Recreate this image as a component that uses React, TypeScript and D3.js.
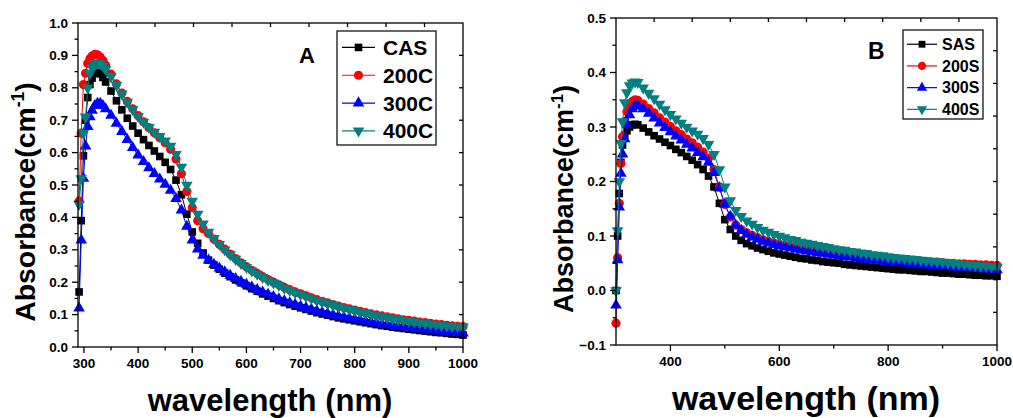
import React from 'react';
import * as d3 from 'd3';

// ---------- Panel A data ----------
const WL_A = [291, 295, 299, 303, 307, 311, 315, 320, 325, 330, 335, 340,
  350, 360, 370, 380, 390, 400, 410, 420, 430, 440, 450, 460,
  470, 480, 490, 500, 510, 520,
  530, 540, 550, 560, 570, 580, 590, 600,
  610, 620, 630, 640, 650, 660, 670, 680, 690, 700,
  710, 720, 730, 740, 750, 760, 770, 780, 790, 800,
  810, 820, 830, 840, 850, 860, 870, 880, 890, 900,
  910, 920, 930, 940, 950, 960, 970, 980, 990, 1000];

const CAS = [0.17, 0.39, 0.59, 0.70, 0.77, 0.81, 0.83, 0.845, 0.848, 0.843, 0.832, 0.818,
  0.790, 0.760, 0.732, 0.706, 0.682, 0.660, 0.640, 0.622, 0.605, 0.588, 0.570, 0.548,
  0.515, 0.470, 0.410, 0.355, 0.320, 0.290,
  0.268, 0.253, 0.240, 0.228, 0.217, 0.207, 0.198, 0.189,
  0.180, 0.172, 0.164, 0.157, 0.150, 0.143, 0.137, 0.131, 0.126, 0.121,
  0.116, 0.111, 0.106, 0.102, 0.098, 0.094, 0.090, 0.087, 0.084, 0.081,
  0.078, 0.075, 0.072, 0.069, 0.066, 0.064, 0.061, 0.059, 0.057, 0.055,
  0.053, 0.051, 0.049, 0.047, 0.045, 0.044, 0.042, 0.040, 0.039, 0.037];

const C200 = [0.45, 0.66, 0.81, 0.845, 0.875, 0.890, 0.898, 0.903, 0.902, 0.895, 0.884, 0.870,
  0.842, 0.812, 0.784, 0.758, 0.735, 0.714, 0.695, 0.677, 0.661, 0.646, 0.630, 0.610,
  0.580, 0.535, 0.480, 0.430, 0.390, 0.365,
  0.350, 0.333, 0.317, 0.302, 0.287, 0.273, 0.260, 0.248,
  0.237, 0.227, 0.217, 0.208, 0.200, 0.192, 0.184, 0.177, 0.170, 0.164,
  0.158, 0.152, 0.146, 0.141, 0.136, 0.131, 0.126, 0.122, 0.118, 0.114,
  0.110, 0.106, 0.102, 0.099, 0.096, 0.093, 0.090, 0.087, 0.084, 0.082,
  0.080, 0.077, 0.075, 0.073, 0.071, 0.069, 0.067, 0.065, 0.064, 0.063];

const C300 = [0.12, 0.33, 0.52, 0.62, 0.68, 0.71, 0.73, 0.745, 0.752, 0.752, 0.745, 0.735,
  0.715, 0.690, 0.665, 0.640, 0.615, 0.592, 0.572, 0.553, 0.535, 0.518, 0.502, 0.483,
  0.458, 0.422, 0.372, 0.330, 0.302, 0.283,
  0.268, 0.255, 0.243, 0.232, 0.221, 0.211, 0.202, 0.193,
  0.185, 0.177, 0.169, 0.162, 0.155, 0.148, 0.142, 0.136, 0.131, 0.126,
  0.121, 0.116, 0.111, 0.107, 0.103, 0.099, 0.095, 0.092, 0.089, 0.086,
  0.083, 0.080, 0.077, 0.074, 0.071, 0.069, 0.066, 0.064, 0.062, 0.060,
  0.058, 0.056, 0.054, 0.052, 0.050, 0.049, 0.047, 0.046, 0.044, 0.043];

const C400 = [0.44, 0.52, 0.66, 0.71, 0.80, 0.845, 0.862, 0.872, 0.876, 0.874, 0.867, 0.857,
  0.835, 0.808, 0.781, 0.756, 0.733, 0.712, 0.694, 0.678, 0.663, 0.650, 0.636, 0.620,
  0.595, 0.555, 0.500, 0.450, 0.410, 0.380,
  0.355, 0.335, 0.317, 0.300, 0.285, 0.271, 0.258, 0.246,
  0.235, 0.225, 0.215, 0.206, 0.198, 0.190, 0.182, 0.175, 0.168, 0.162,
  0.156, 0.150, 0.144, 0.139, 0.134, 0.129, 0.124, 0.120, 0.116, 0.112,
  0.108, 0.104, 0.100, 0.097, 0.094, 0.091, 0.088, 0.085, 0.082, 0.080,
  0.078, 0.075, 0.073, 0.071, 0.069, 0.067, 0.065, 0.064, 0.063, 0.062];

// ---------- Panel B data ----------
const WL_B = [300, 303, 306, 309, 312, 316, 320, 325, 330, 335, 340,
  350, 360, 370, 380, 390, 400, 410, 420, 430, 440, 450, 460,
  470, 480, 490, 500, 510, 520,
  530, 540, 550, 560, 570, 580, 590, 600,
  610, 620, 630, 640, 650, 660, 670, 680, 690, 700,
  710, 720, 730, 740, 750, 760, 770, 780, 790, 800,
  810, 820, 830, 840, 850, 860, 870, 880, 890, 900,
  910, 920, 930, 940, 950, 960, 970, 980, 990, 1000];

const SAS = [0.00, 0.10, 0.178, 0.235, 0.267, 0.285, 0.293, 0.300, 0.304, 0.305, 0.304,
  0.298, 0.291, 0.284, 0.278, 0.272, 0.266, 0.259, 0.253, 0.246, 0.239, 0.231, 0.222,
  0.210, 0.190, 0.160, 0.130, 0.112, 0.100,
  0.092, 0.086, 0.082, 0.078, 0.075, 0.072, 0.069, 0.067,
  0.065, 0.063, 0.061, 0.059, 0.058, 0.056, 0.055, 0.053, 0.052, 0.051,
  0.050, 0.048, 0.047, 0.046, 0.045, 0.044, 0.043, 0.042, 0.041, 0.040,
  0.039, 0.038, 0.038, 0.037, 0.036, 0.035, 0.035, 0.034, 0.033, 0.032,
  0.032, 0.031, 0.030, 0.030, 0.029, 0.028, 0.028, 0.027, 0.027, 0.026];

const S200 = [-0.06, 0.06, 0.16, 0.233, 0.282, 0.31, 0.328, 0.340, 0.347, 0.350, 0.349,
  0.342, 0.334, 0.326, 0.317, 0.309, 0.301, 0.293, 0.286, 0.278, 0.271, 0.263, 0.254,
  0.243, 0.222, 0.190, 0.158, 0.135, 0.120,
  0.112, 0.106, 0.101, 0.097, 0.093, 0.090, 0.087, 0.085,
  0.083, 0.081, 0.079, 0.077, 0.076, 0.074, 0.073, 0.071, 0.070, 0.069,
  0.067, 0.066, 0.065, 0.064, 0.063, 0.062, 0.061, 0.060, 0.059, 0.058,
  0.057, 0.057, 0.056, 0.055, 0.054, 0.054, 0.053, 0.052, 0.052, 0.051,
  0.050, 0.050, 0.049, 0.049, 0.048, 0.048, 0.047, 0.047, 0.046, 0.046];

const S300 = [-0.027, 0.056, 0.153, 0.215, 0.25, 0.278, 0.305, 0.322, 0.333, 0.338, 0.339,
  0.333, 0.325, 0.316, 0.307, 0.299, 0.291, 0.283, 0.276, 0.268, 0.261, 0.253, 0.245,
  0.235, 0.216, 0.188, 0.158, 0.136, 0.120,
  0.110, 0.103, 0.098, 0.094, 0.090, 0.087, 0.084, 0.082,
  0.080, 0.078, 0.076, 0.074, 0.072, 0.071, 0.069, 0.068, 0.066, 0.065,
  0.063, 0.062, 0.061, 0.059, 0.058, 0.057, 0.056, 0.055, 0.054, 0.053,
  0.052, 0.051, 0.050, 0.049, 0.048, 0.047, 0.047, 0.046, 0.045, 0.044,
  0.044, 0.043, 0.042, 0.042, 0.041, 0.040, 0.040, 0.039, 0.039, 0.038];

const S400 = [0.0, 0.11, 0.20, 0.27, 0.31, 0.345, 0.363, 0.376, 0.381, 0.383, 0.382,
  0.372, 0.362, 0.352, 0.342, 0.332, 0.323, 0.315, 0.307, 0.300, 0.293, 0.287, 0.279,
  0.268, 0.250, 0.222, 0.190, 0.165, 0.147,
  0.136, 0.128, 0.122, 0.116, 0.111, 0.107, 0.103, 0.100,
  0.097, 0.094, 0.092, 0.089, 0.087, 0.085, 0.083, 0.081, 0.079, 0.077,
  0.075, 0.074, 0.072, 0.071, 0.069, 0.068, 0.066, 0.065, 0.064, 0.062,
  0.061, 0.060, 0.059, 0.058, 0.057, 0.056, 0.055, 0.054, 0.053, 0.052,
  0.051, 0.050, 0.049, 0.048, 0.047, 0.046, 0.045, 0.045, 0.044, 0.043];

// ---------- Labels / ticks ----------
const NAMES_A = ['CAS', '200C', '300C', '400C'];
const NAMES_B = ['SAS', '200S', '300S', '400S'];
const XTICKS_A = [300, 400, 500, 600, 700, 800, 900, 1000];
const XMINOR_A = [350, 450, 550, 650, 750, 850, 950];
const YTICKS_A = [0, 0.1, 0.2, 0.3, 0.4, 0.5, 0.6, 0.7, 0.8, 0.9, 1.0];
const XTICKS_B = [400, 600, 800, 1000];
const XMINOR_B = [500, 700, 900];
const YTICKS_B = [-0.1, 0, 0.1, 0.2, 0.3, 0.4, 0.5];

const COLORS = ['#000000', '#ff0000', '#0000ff', '#008080'];
const SYMBOLS = [
  { type: d3.symbolSquare, size: 58, rot: 0 },
  { type: d3.symbolCircle, size: 66, rot: 0 },
  { type: d3.symbolTriangle, size: 58, rot: 0 },
  { type: d3.symbolTriangle, size: 58, rot: 180 },
];

const FONT = '"Liberation Sans", Arial, sans-serif';

type PanelCfg = {
  left: number; right: number; top: number; bottom: number;
  xDomain: [number, number]; yDomain: [number, number];
  wl: number[]; series: number[][]; names: string[];
  xTicks: number[]; xMinor: number[]; yTicks: number[];
  letter: string; letterX: number; letterY: number; letterSize: number;
  legend: { x: number; y: number; w: number; h: number; rowY0: number; rowDy: number; fs: number; lineX0: number; lineX1: number; textX: number; markScale: number };
  xTitle: { x: number; y: number; fs: number };
  yTitle: { x: number; y: number; fs: number };
};

function Marker({ x, y, idx, scale = 1 }: { x: number; y: number; idx: number; scale?: number }) {
  const s = SYMBOLS[idx];
  const path = d3.symbol().type(s.type).size(s.size * scale * scale)() || '';
  return (
    <path d={path} transform={`translate(${x},${y}) rotate(${s.rot})`} fill={COLORS[idx]} stroke="none" />
  );
}

function Panel({ c }: { c: PanelCfg }) {
  const x = d3.scaleLinear().domain(c.xDomain).range([c.left, c.right]);
  const y = d3.scaleLinear().domain(c.yDomain).range([c.bottom, c.top]);
  const yMinor: number[] = [];
  for (let i = 0; i < c.yTicks.length - 1; i++) yMinor.push((c.yTicks[i] + c.yTicks[i + 1]) / 2);
  const mirrorX = d3.scaleLinear().domain([0, 10]).range([c.left, c.right]);
  const mirrorY = d3.scaleLinear().domain([0, 10]).range([c.bottom, c.top]);
  const mid = [1, 2, 3, 4, 5, 6, 7, 8, 9];
  const line = d3.line<number>().x((_, i) => x(c.wl[i])).y((v) => y(v));
  const fmt = d3.format('.1f');
  const axisW = 1.3;
  return (
    <g>
      {c.series.map((vals, si) => (
        <g key={si}>
          <path d={line(vals) || ''} fill="none" stroke={COLORS[si]} strokeWidth={1} />
          {vals.map((v, i) => (
            <Marker key={i} x={x(c.wl[i])} y={y(v)} idx={si} />
          ))}
        </g>
      ))}
      <rect x={c.left} y={c.top} width={c.right - c.left} height={c.bottom - c.top} fill="none" stroke="#000" strokeWidth={axisW} />
      {c.xTicks.map((t) => (
        <g key={'xt' + t}>
          <line x1={x(t)} x2={x(t)} y1={c.bottom} y2={c.bottom + 6} stroke="#000" strokeWidth={axisW} />
          <text x={x(t)} y={c.bottom + 21} textAnchor="middle" fontFamily={FONT} fontWeight="bold" fontSize={13.5}>{t}</text>
        </g>
      ))}
      {c.xMinor.map((t) => (
        <line key={'xm' + t} x1={x(t)} x2={x(t)} y1={c.bottom} y2={c.bottom + 3.5} stroke="#000" strokeWidth={axisW} />
      ))}
      {c.yTicks.map((t) => (
        <g key={'yt' + t}>
          <line x1={c.left - 6} x2={c.left} y1={y(t)} y2={y(t)} stroke="#000" strokeWidth={axisW} />
          <text x={c.left - 10} y={y(t) + 4.5} textAnchor="end" fontFamily={FONT} fontWeight="bold" fontSize={13.5}>{fmt(t)}</text>
        </g>
      ))}
      {yMinor.map((t) => (
        <line key={'ym' + t} x1={c.left - 3.5} x2={c.left} y1={y(t)} y2={y(t)} stroke="#000" strokeWidth={axisW} />
      ))}
      {mid.map((k) => (
        <line key={'tt' + k} x1={mirrorX(k)} x2={mirrorX(k)} y1={c.top} y2={c.top + 4} stroke="#000" strokeWidth={axisW} />
      ))}
      {mid.map((k) => (
        <line key={'rt' + k} x1={c.right - 4} x2={c.right} y1={mirrorY(k)} y2={mirrorY(k)} stroke="#000" strokeWidth={axisW} />
      ))}
      <text x={c.letterX} y={c.letterY} fontFamily={FONT} fontWeight="bold" fontSize={c.letterSize}>{c.letter}</text>
      <rect x={c.legend.x} y={c.legend.y} width={c.legend.w} height={c.legend.h} fill="#fff" stroke="#000" strokeWidth={1.2} />
      {c.names.map((n, i) => {
        const by = c.legend.rowY0 + i * c.legend.rowDy;
        const ly = by - c.legend.fs * 0.36;
        return (
          <g key={n}>
            <line x1={c.legend.lineX0} x2={c.legend.lineX1} y1={ly} y2={ly} stroke={COLORS[i]} strokeWidth={1.2} />
            <Marker x={(c.legend.lineX0 + c.legend.lineX1) / 2} y={ly} idx={i} scale={c.legend.markScale} />
            <text x={c.legend.textX} y={by} fontFamily={FONT} fontWeight="bold" fontSize={c.legend.fs}>{n}</text>
          </g>
        );
      })}
      <text x={c.xTitle.x} y={c.xTitle.y} textAnchor="middle" fontFamily={FONT} fontWeight="bold" fontSize={c.xTitle.fs}>wavelength (nm)</text>
      <text transform={`translate(${c.yTitle.x},${c.yTitle.y}) rotate(-90)`} textAnchor="middle" fontFamily={FONT} fontWeight="bold" fontSize={c.yTitle.fs}>
        Absorbance(cm<tspan fontSize={c.yTitle.fs * 0.62} dy={-c.yTitle.fs * 0.38}>-1</tspan><tspan dy={c.yTitle.fs * 0.38}>)</tspan>
      </text>
    </g>
  );
}

const PANEL_A: PanelCfg = {
  left: 78, right: 463, top: 23, bottom: 347,
  xDomain: [289, 1000], yDomain: [0, 1],
  wl: WL_A, series: [CAS, C200, C300, C400], names: NAMES_A,
  xTicks: XTICKS_A, xMinor: XMINOR_A, yTicks: YTICKS_A,
  letter: 'A', letterX: 299, letterY: 63, letterSize: 22,
  legend: { x: 337, y: 31, w: 99, h: 114, rowY0: 55, rowDy: 27.8, fs: 21, lineX0: 342, lineX1: 375, textX: 383, markScale: 1.0 },
  xTitle: { x: 270, y: 411, fs: 31 },
  yTitle: { x: 35, y: 202, fs: 28.4 },
};

const PANEL_B: PanelCfg = {
  left: 616, right: 997, top: 18, bottom: 345,
  xDomain: [300, 1000], yDomain: [-0.1, 0.5],
  wl: WL_B, series: [SAS, S200, S300, S400], names: NAMES_B,
  xTicks: XTICKS_B, xMinor: XMINOR_B, yTicks: YTICKS_B,
  letter: 'B', letterX: 868, letterY: 59, letterSize: 23,
  legend: { x: 903, y: 30, w: 80, h: 89, rowY0: 50, rowDy: 21.7, fs: 16, lineX0: 907, lineX1: 937, textX: 942, markScale: 0.9 },
  xTitle: { x: 806, y: 410, fs: 34 },
  yTitle: { x: 573, y: 199, fs: 27 },
};

export default function App() {
  return (
    <svg width={1013} height={418} style={{ position: 'absolute', left: 0, top: 0, background: '#fff' }}>
      <rect x={0} y={0} width={1013} height={418} fill="#fff" />
      <Panel c={PANEL_A} />
      <Panel c={PANEL_B} />
    </svg>
  );
}
